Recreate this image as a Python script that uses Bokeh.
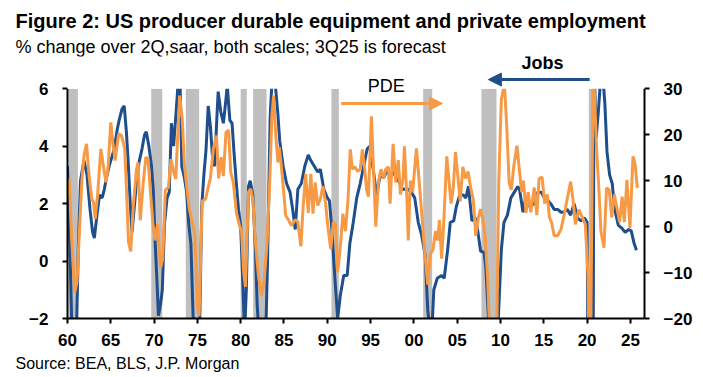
from bokeh.plotting import figure
from bokeh.models import (Range1d, LinearAxis, Label, Arrow, NormalHead,
                          BoxAnnotation, FixedTicker, Title)
from bokeh.embed import file_html
from bokeh.resources import INLINE

# ---------------- data ----------------
jobs_year = [1960.0, 1960.25, 1960.5, 1960.75, 1961.0, 1961.25, 1961.5, 1961.9, 1962.25, 1962.6,
             1962.9, 1963.1, 1963.4, 1963.7, 1964.0, 1964.25, 1964.5, 1964.8, 1965.1, 1965.4,
             1965.75, 1966.0, 1966.3, 1966.55, 1966.8, 1967.0, 1967.25, 1967.45, 1967.75, 1968.0,
             1968.3, 1968.6, 1968.9, 1969.1, 1969.4, 1969.7, 1969.9, 1970.1, 1970.3, 1970.5,
             1970.75, 1970.95, 1971.2, 1971.5, 1971.75, 1972.0, 1972.25, 1972.5, 1972.75, 1973.0,
             1973.2, 1973.5, 1973.75, 1974.0, 1974.25, 1974.5, 1974.75, 1975.0, 1975.25, 1975.5,
             1975.75, 1976.0, 1976.25, 1976.5, 1976.75, 1977.0, 1977.25, 1977.4, 1977.7, 1978.0,
             1978.25, 1978.45, 1978.75, 1979.0, 1979.25, 1979.5, 1979.75, 1980.0, 1980.25, 1980.45,
             1980.65, 1980.9, 1981.1, 1981.4, 1981.7, 1981.9, 1982.1, 1982.5, 1982.9, 1983.1,
             1983.4, 1983.6, 1983.9, 1984.1, 1984.3, 1984.5, 1984.9, 1985.3, 1985.7, 1986.0,
             1986.3, 1986.6, 1987.0, 1987.4, 1987.8, 1988.1, 1988.5, 1988.9, 1989.2, 1989.6,
             1990.0, 1990.25, 1990.5, 1990.9, 1991.2, 1991.5, 1991.9, 1992.3, 1992.6, 1993.0,
             1993.4, 1993.8, 1994.2, 1994.6, 1994.9, 1995.3, 1995.7, 1996.1, 1996.5, 1996.9,
             1997.2, 1997.6, 1998.0, 1998.3, 1998.7, 1999.3, 1999.7, 2000.1, 2000.5, 2000.9,
             2001.3, 2001.6, 2001.85, 2002.1, 2002.3, 2002.7, 2003.2, 2003.5, 2003.9, 2004.2,
             2004.6, 2004.9, 2005.3, 2005.7, 2006.0, 2006.3, 2006.7, 2007.1, 2007.4, 2007.7,
             2008.1, 2008.3, 2008.6, 2008.9, 2009.25, 2009.5, 2009.75, 2010.1, 2010.4, 2010.8,
             2011.2, 2011.6, 2012.0, 2012.2, 2012.6, 2012.9, 2013.3, 2013.9, 2014.3, 2014.7,
             2015.1, 2015.5, 2015.8, 2016.2, 2016.6, 2017.0, 2017.3, 2017.7, 2018.1, 2018.5,
             2018.9, 2019.3, 2019.7, 2020.0, 2020.25, 2020.5, 2020.8, 2021.05, 2021.3, 2021.55,
             2021.8, 2022.05, 2022.3, 2022.6, 2022.9, 2023.2, 2023.6, 2024.0, 2024.4, 2024.8,
             2025.1, 2025.4, 2025.7]
jobs_val = [3.3, 0.8, -2.3, -3.2, -3.0, 0.5, 2.8, 3.5, 3.0, 1.8,
            1.0, 0.8, 1.6, 2.3, 2.2, 2.5, 2.9, 3.3, 3.6, 3.9,
            4.6, 4.95, 5.3, 5.4, 4.5, 3.5, 2.0, 1.0, 2.0, 2.9,
            3.5, 3.9, 4.4, 4.5, 4.0, 3.3, 2.5, 0.8, -0.5, -1.9,
            -1.5, -1.0, 1.3, 2.2, 2.4, 4.8, 4.0, 5.0, 6.1, 6.2,
            3.3, 2.9, 2.4, 1.3, 0.6, -1.9, -2.5, -3.5, -2.5, 1.9,
            3.0, 3.9, 5.4, 4.7, 3.6, 3.3, 5.0, 5.9, 5.2, 4.8,
            5.5, 6.1, 4.9, 4.8, 3.7, 2.7, 1.8, 1.2, -0.8, -2.5,
            -1.0, 2.6, 2.8, 2.3, 0.4, -1.5, -2.5, -3.0, -2.5, 0.0,
            5.0, 6.2, 6.5, 5.8, 5.1, 4.2, 3.3, 2.7, 2.4, 1.8,
            1.1, 2.5, 2.7, 3.3, 3.7, 3.5, 3.3, 3.1, 3.2, 2.5,
            2.2, 2.1, 1.2, -0.7, -2.0, -1.2, -0.5, -0.5, 0.6, 1.35,
            2.2, 2.7, 3.3, 3.9, 4.0, 3.2, 2.3, 3.0, 2.9, 3.15,
            3.0, 3.1, 2.9, 2.75, 2.5, 2.5, 2.4, 2.2, 1.35, 0.9,
            0.2, -1.7, -2.4, -2.3, -1.0, -0.6, -0.5, -0.6, 0.4, 1.35,
            1.4, 1.9, 2.3, 2.3, 2.2, 2.6, 1.4, 1.5, 1.0, 0.35,
            0.3, -0.2, -1.9, -4.0, -6.5, -5.0, -2.0, 0.4, 1.35, 1.6,
            2.2, 2.4, 2.6, 2.5, 1.7, 2.2, 1.9, 2.0, 2.4, 2.4,
            2.2, 2.1, 2.0, 1.8, 1.8, 1.7, 1.7, 1.8, 1.6, 2.0,
            1.5, 1.4, 1.5, 1.35, -10.0, -25.0, 7.0, 4.3, 5.2, 6.3,
            6.5, 5.5, 3.8, 3.0, 2.7, 1.8, 1.25, 1.15, 1.0, 1.1,
            1.05, 0.65, 0.38]

pde_year = [1960.0, 1960.2, 1960.5, 1960.85, 1961.1, 1961.4, 1961.65, 1961.9, 1962.2, 1962.5,
            1962.8, 1963.0, 1963.2, 1963.5, 1963.85, 1964.2, 1964.45, 1964.7, 1965.0, 1965.25,
            1965.5, 1965.9, 1966.25, 1966.6, 1966.8, 1967.05, 1967.3, 1967.6, 1967.95, 1968.15,
            1968.4, 1968.75, 1969.05, 1969.3, 1969.5, 1969.85, 1970.1, 1970.4, 1970.75, 1971.0,
            1971.3, 1971.65, 1971.95, 1972.25, 1972.5, 1972.95, 1973.25, 1973.5, 1974.05, 1974.4,
            1974.7, 1975.0, 1975.2, 1975.55, 1975.95, 1976.3, 1976.5, 1976.85, 1977.2, 1977.45,
            1977.75, 1978.0, 1978.3, 1978.6, 1978.85, 1979.15, 1979.5, 1979.9, 1980.1, 1980.35,
            1980.55, 1980.9, 1981.15, 1981.4, 1981.7, 1982.05, 1982.4, 1982.7, 1983.05, 1983.35,
            1983.6, 1983.8, 1984.05, 1984.3, 1984.45, 1984.7, 1984.9, 1985.2, 1985.5, 1985.85,
            1986.3, 1986.6, 1986.95, 1987.2, 1987.5, 1987.8, 1988.1, 1988.35, 1988.6, 1988.9,
            1989.2, 1989.5, 1989.8, 1990.1, 1990.4, 1990.7, 1990.95, 1991.2, 1991.5, 1991.8,
            1992.1, 1992.4, 1992.65, 1992.9, 1993.2, 1993.5, 1993.8, 1994.05, 1994.3, 1994.55,
            1994.75, 1995.1, 1995.3, 1995.6, 1995.9, 1996.2, 1996.5, 1996.75, 1997.05, 1997.25,
            1997.6, 1997.9, 1998.2, 1998.45, 1998.75, 1998.9, 1999.2, 1999.35, 1999.6, 1999.85,
            2000.3, 2000.6, 2000.9, 2001.2, 2001.6, 2001.9, 2002.2, 2002.5, 2002.75, 2002.95,
            2003.2, 2003.45, 2003.8, 2004.1, 2004.3, 2004.55, 2004.8, 2005.1, 2005.35, 2005.65,
            2005.95, 2006.25, 2006.55, 2006.85, 2007.15, 2007.45, 2007.7, 2007.95, 2008.2, 2008.5,
            2008.8, 2009.25, 2009.55, 2009.8, 2010.1, 2010.45, 2010.7, 2011.0, 2011.25, 2011.55,
            2011.9, 2012.2, 2012.45, 2012.65, 2012.95, 2013.2, 2013.5, 2013.9, 2014.2, 2014.45,
            2014.8, 2015.1, 2015.4, 2015.65, 2015.9, 2016.2, 2016.6, 2017.0, 2017.4, 2017.75,
            2018.1, 2018.4, 2018.65, 2019.05, 2019.45, 2019.8, 2020.1, 2020.35, 2020.7, 2021.1,
            2021.35, 2021.6, 2021.95, 2022.25, 2022.55, 2022.85, 2023.15, 2023.45, 2023.75, 2024.05,
            2024.3, 2024.6, 2024.95, 2025.3, 2025.55, 2025.8]
pde_val = [6.7, 10.4, -3.4, -14.3, -12.0, 0.0, 9.6, 15.4, 18.0, 10.9,
           6.0, 5.3, 1.65, 7.5, 16.9, 12.5, 9.6, 13.3, 22.7, 18.0,
           14.4, 20.2, 19.8, 17.0, 8.6, -3.4, -5.4, 4.6, 12.2, 14.0,
           1.4, 9.6, 15.1, 14.7, 9.6, 0.9, -3.0, 0.5, -9.0, -7.0,
           8.0, 8.5, 14.7, 12.0, 10.4, 28.5, 23.5, 13.3, 4.0, 1.0,
           -1.5, -17.0, -19.5, 5.5, 6.0, 9.0, 10.5, 17.0, 19.8, 10.5,
           15.1, 11.0, 20.5, 21.0, 11.8, 9.6, 3.0, 0.0, -1.0, -10.0,
           -13.1, 7.5, 8.2, 6.0, -3.4, -10.7, -15.0, -12.0, -3.4, 9.6,
           24.1, 28.5, 19.8, 14.0, 17.3, 13.0, 8.9, 2.4, 1.5, 0.2,
           1.5, 1.0, -4.3, 4.0, 11.5, 3.0, 11.5, 2.8, 9.6, 4.6,
           6.0, 8.8, 5.0, -0.5, -4.9, 1.0, 0.5, -9.9, -4.5, 2.8,
           -1.0, 6.0, 16.8, 12.5, 13.0, 12.0, 12.5, 16.8, 13.0, 8.0,
           6.5, 24.0, 14.0, 0.0, 9.6, 12.5, 10.5, 12.5, 13.0, 5.0,
           18.0, 9.6, 14.5, 7.0, 10.5, 17.5, 6.0, -3.0, 10.0, 7.5,
           17.0, 10.0, 3.0, -4.5, -12.6, -6.0, -5.0, -1.0, -3.0, 1.4,
           -7.0, 1.0, 15.3, 9.0, 5.0, 8.5, 16.2, 10.5, 5.5, 13.0,
           10.5, 12.0, 8.5, 6.0, -2.0, 2.0, 3.8, 1.5, -1.5, -10.7,
           -25.0, -40.0, -25.0, 9.6, 27.7, 31.0, 22.7, 9.6, 8.0, 13.3,
           17.6, 12.0, 7.5, 10.0, 3.0, 7.5, 3.1, 8.5, 2.5, 10.4,
           10.8, 5.0, 7.0, 2.0, 0.9, -2.0, -2.0, -0.5, 3.0, 6.5,
           9.8, 5.5, 0.5, 3.7, 2.0, 0.5, -10.5, -40.0, 36.0, 17.0,
           8.6, -1.0, -4.6, 8.4, 8.0, 2.0, 7.0, 4.0, 1.0, 6.5,
           1.0, 10.2, -0.3, 15.3, 13.5, 8.4]

rec_start = [1960.15, 1969.67, 1973.66, 1980.0, 1981.44, 1990.48, 2001.07, 2007.8, 2020.2]
rec_end = [1961.2, 1970.94, 1975.2, 1980.7, 1982.98, 1991.33, 2002.11, 2009.54, 2020.7]

x_ticks = [1960, 1965, 1970, 1975, 1980, 1985, 1990, 1995, 2000, 2005, 2010, 2015, 2020, 2025]
x_tick_labels = ["60", "65", "70", "75", "80", "85", "90", "95", "00", "05", "10", "15", "20", "25"]
left_ticks = [-2, 0, 2, 4, 6]
right_ticks = [-20, -10, 0, 10, 20, 30]

title_text = "Figure 2: US producer durable equipment and private employment"
subtitle_text = "% change over 2Q,saar, both scales; 3Q25 is forecast"
source_text = "Source: BEA, BLS, J.P. Morgan"

BLUE = "#1f4e8c"
ORANGE = "#f79a45"
GREY = "#bfbfbf"
NARROW = "'Liberation Sans Narrow', 'Arial Narrow', 'Liberation Sans', sans-serif"

# frame extended above 6 so the Jobs note fits; 28.75 px per left unit
Y_TOP = 7.1235
PDE_TOP = 37.02

p = figure(width=703, height=377, output_backend="svg", toolbar_location=None,
           x_range=Range1d(1960, 2026.63), y_range=Range1d(-2, Y_TOP),
           min_border_left=67, min_border_right=59, min_border_top=56, min_border_bottom=59,
           background_fill_color="white", border_fill_color="white")
p.outline_line_color = None
p.xgrid.visible = False
p.ygrid.visible = False
p.extra_y_ranges = {"pde": Range1d(-20, PDE_TOP)}

for s, e in zip(rec_start, rec_end):
    p.add_layout(BoxAnnotation(left=s, right=e, bottom=-2, top=6, fill_color=GREY,
                               fill_alpha=1.0, line_color=None, level="underlay"))

p.line(jobs_year, jobs_val, line_color=BLUE, line_width=3)
p.line(pde_year, pde_val, line_color=ORANGE, line_width=3, y_range_name="pde")

# white mask above the top of the value scales (clips lines at 6 / 30)
p.add_layout(BoxAnnotation(bottom=6, top=Y_TOP + 3, left=1950, right=2040,
                           fill_color="white", fill_alpha=1.0, line_color=None))

def style_axis(ax):
    ax.axis_line_color = "black"
    ax.axis_line_width = 2
    ax.major_tick_line_color = "black"
    ax.major_tick_line_width = 2
    ax.major_tick_out = 5
    ax.major_tick_in = 0
    ax.minor_tick_line_color = None
    ax.major_label_text_font = NARROW
    ax.major_label_text_font_style = "bold"
    ax.major_label_text_font_size = "17px"
    ax.major_label_text_color = "black"

xa = p.xaxis[0]
style_axis(xa)
xa.ticker = FixedTicker(ticks=x_ticks)
xa.major_label_overrides = {t: l for t, l in zip(x_ticks, x_tick_labels)}
xa.major_label_standoff = 10

ya = p.yaxis[0]
style_axis(ya)
ya.ticker = FixedTicker(ticks=left_ticks)
ya.bounds = (-2, 6)
ya.major_label_standoff = 14

ra = LinearAxis(y_range_name="pde", ticker=FixedTicker(ticks=right_ticks), bounds=(-20, 30))
style_axis(ra)
ra.major_label_standoff = 14
p.add_layout(ra, "right")

# ---------------- texts ----------------
p.add_layout(Title(text=subtitle_text, align="left", offset=-52, standoff=0,
                   text_font=NARROW, text_font_size="18px", text_font_style="normal",
                   text_color="black"), "above")
p.add_layout(Title(text=title_text, align="left", offset=-52, standoff=6,
                   text_font=NARROW, text_font_size="20px", text_font_style="bold",
                   text_color="black"), "above")
p.add_layout(Title(text=source_text, align="left", offset=-52, standoff=8,
                   text_font=NARROW, text_font_size="16px", text_font_style="normal",
                   text_color="black"), "below")

p.add_layout(Label(x=1996.8, y=6.08, text="PDE", text_font=NARROW, text_font_size="18px",
                   text_align="center", text_baseline="middle", text_color="black"))
p.add_layout(Arrow(x_start=1991.6, y_start=5.49, x_end=2003.3, y_end=5.49,
                   line_color=ORANGE, line_width=3,
                   end=NormalHead(size=13, fill_color=ORANGE, line_color=ORANGE)))

p.add_layout(Label(x=2014.85, y=6.88, text="Jobs", text_font=NARROW, text_font_style="bold",
                   text_font_size="18px", text_align="center", text_baseline="middle",
                   text_color="black"))
p.add_layout(Arrow(x_start=2020.3, y_start=6.32, x_end=2008.6, y_end=6.32,
                   line_color=BLUE, line_width=3,
                   end=NormalHead(size=13, fill_color=BLUE, line_color=BLUE)))

open("out.html", "w").write(file_html(p, INLINE))
